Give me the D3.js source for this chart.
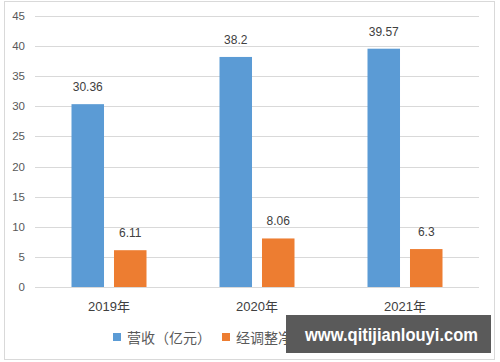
<!DOCTYPE html>
<html><head><meta charset="utf-8">
<script src="https://cdn.jsdelivr.net/npm/d3@7"></script>
<style>body{margin:0;background:#fff}svg{display:block}text{font-family:"Liberation Sans","Noto Sans CJK SC",sans-serif}</style>
</head><body><svg id="c" width="500" height="362"></svg>
<script>
const categories = ["2019年","2020年","2021年"];
const seriesNames = ["营收（亿元）","经调整净利润（亿元）"];
const revenue = [30.36, 38.2, 39.57];
const netProfit = [6.11, 8.06, 6.3];
const yTicks = [0,5,10,15,20,25,30,35,40,45];
const colors = ["#5B9BD5","#ED7D31"];

(function(){
const svg = d3.select("#c");
svg.append("rect").attr("x",4.5).attr("y",1.5).attr("width",490).attr("height",358)
  .attr("fill","#fff").attr("stroke","#d9d9d9");

const pL=35, pR=479, pT=16, pB=287;
const x = d3.scaleBand().domain(categories).range([pL,pR]).paddingInner(0).paddingOuter(0);
const y = d3.scaleLinear().domain([0,45]).range([pB,pT]);
const inner = d3.scaleBand().domain([0,1]).range([-37.5,37.5]).paddingInner(0.235);

svg.append("g").selectAll("line").data(yTicks).join("line")
  .attr("x1",pL).attr("x2",pR).attr("y1",d=>Math.round(y(d))+0.5).attr("y2",d=>Math.round(y(d))+0.5)
  .attr("stroke","#d9d9d9").attr("stroke-width",1);
svg.append("g").selectAll("text").data(yTicks).join("text")
  .attr("x",25).attr("y",d=>y(d)+4).attr("text-anchor","end")
  .attr("font-size",11.5).attr("fill","#595959").text(d=>d);

const series=[revenue,netProfit];
series.forEach((vals,si)=>{
  const g=svg.append("g");
  g.selectAll("rect").data(vals).join("rect")
    .attr("x",(d,i)=>x(categories[i])+x.bandwidth()/2+inner(si))
    .attr("width",inner.bandwidth())
    .attr("y",d=>y(d)).attr("height",d=>y(0)-y(d)).attr("fill",colors[si]);
  g.selectAll("text").data(vals).join("text")
    .attr("x",(d,i)=>x(categories[i])+x.bandwidth()/2+inner(si)+inner.bandwidth()/2)
    .attr("y",d=>y(d)-13).attr("text-anchor","middle")
    .attr("font-size",12).attr("fill","#404040").text(d=>d);
});

svg.append("g").selectAll("text").data(categories).join("text")
  .attr("x",d=>x(d)+x.bandwidth()/2).attr("y",311).attr("text-anchor","middle")
  .attr("font-size",13).attr("fill","#404040").text(d=>d);

const lg=svg.append("g");
const lx=[113,222];
seriesNames.forEach((n,i)=>{
  lg.append("rect").attr("x",lx[i]).attr("y",333).attr("width",8).attr("height",8).attr("fill",colors[i]);
  lg.append("text").attr("x",lx[i]+14).attr("y",343).attr("font-size",14).attr("fill","#595959").text(n);
});

svg.append("rect").attr("x",286).attr("y",315).attr("width",205).attr("height",38).attr("fill","#5a5a5a");
svg.append("text").attr("x",305).attr("y",341).attr("font-size",19).attr("font-weight","bold")
  .attr("fill","#fff").attr("textLength",173).attr("lengthAdjust","spacingAndGlyphs").text("www.qitijianlouyi.com");
})();
</script></body></html>
